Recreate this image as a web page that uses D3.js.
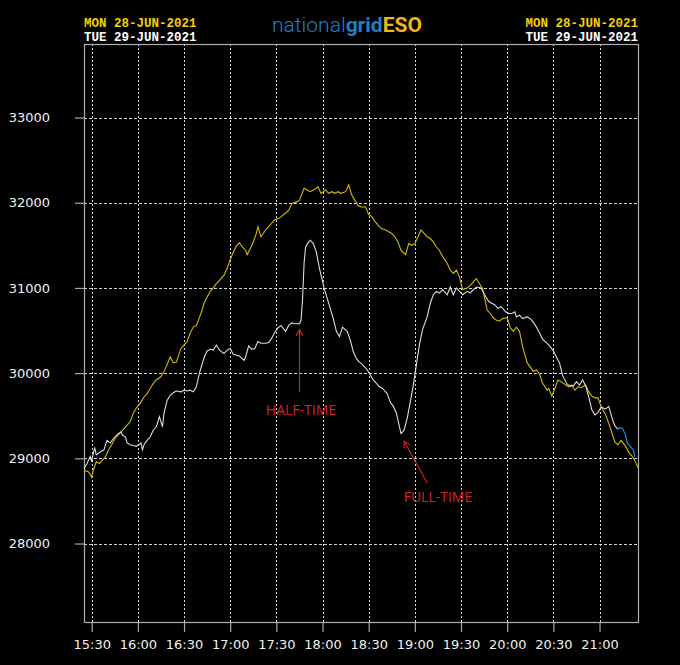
<!DOCTYPE html>
<html><head><meta charset="utf-8">
<script src="https://cdn.jsdelivr.net/npm/d3@7"></script>
<style>html,body{margin:0;padding:0;background:#000;}svg{display:block;}</style>
</head><body>
<svg id="chart" width="680" height="665"></svg>
<script>
// ---------------- DATA ----------------
const headerDates = ["MON 28-JUN-2021", "TUE 29-JUN-2021"];
const logoParts = ["national", "grid", "ESO"];
const yTicks = [28000, 29000, 30000, 31000, 32000, 33000];
const xTickLabels = ["15:30","16:00","16:30","17:00","17:30","18:00","18:30","19:00","19:30","20:00","20:30","21:00"];
const timeExtent = ["15:25", "21:25"];
const valueExtent = [27079, 33863];

// Monday 28-Jun-2021 demand (MW)
const monTimes = ["15:25","15:28","15:30","15:31","15:33","15:35","15:37","15:39","15:41","15:43","15:45","15:48","15:51","15:53","15:55","15:57","15:59","16:02","16:04","16:06","16:08","16:10","16:12","16:15","16:17","16:19","16:21","16:23","16:25","16:28","16:30","16:32","16:34","16:36","16:38","16:41","16:43","16:45","16:47","16:49","16:51","16:53","16:56","16:58","17:00","17:02","17:04","17:06","17:08","17:10","17:11","17:13","17:15","17:17","17:18","17:20","17:23","17:25","17:27","17:29","17:32","17:36","17:38","17:40","17:43","17:45","17:48","17:50","17:52","17:54","17:56","17:57","17:59","18:02","18:04","18:06","18:08","18:10","18:12","18:15","18:17","18:19","18:21","18:23","18:25","18:28","18:30","18:32","18:34","18:36","18:38","18:41","18:43","18:45","18:47","18:49","18:51","18:54","18:56","18:58","19:00","19:02","19:04","19:06","19:08","19:10","19:12","19:14","19:16","19:18","19:21","19:23","19:25","19:27","19:29","19:31","19:34","19:36","19:38","19:40","19:42","19:44","19:47","19:49","19:51","19:53","19:55","19:57","20:00","20:02","20:04","20:06","20:08","20:10","20:13","20:15","20:17","20:19","20:21","20:23","20:26","20:27","20:29","20:31","20:33","20:35","20:38","20:40","20:42","20:44","20:46","20:48","20:51","20:53","20:55","20:57","20:59","21:01","21:04","21:06","21:08","21:10","21:12","21:14","21:17","21:19","21:21","21:23","21:25"];
const monValues = [28860,28840,28780,28860,28960,28940,28980,29020,29100,29160,29230,29290,29350,29390,29430,29530,29590,29660,29720,29760,29820,29880,29920,29960,30020,30100,30190,30120,30130,30290,30330,30370,30470,30540,30560,30700,30820,30890,30960,31000,31050,31090,31150,31230,31330,31420,31490,31530,31480,31440,31390,31460,31540,31640,31720,31600,31680,31720,31760,31800,31820,31880,31910,31990,32010,32030,32170,32150,32130,32150,32170,32190,32110,32150,32110,32130,32110,32130,32110,32130,32210,32090,32030,31970,31950,31950,31860,31840,31780,31740,31700,31680,31660,31640,31600,31540,31440,31390,31520,31500,31520,31600,31680,31640,31600,31580,31540,31480,31440,31370,31290,31210,31170,31210,31130,30980,31000,31030,31070,31110,31050,30990,30740,30700,30650,30620,30610,30640,30650,30530,30490,30540,30490,30310,30120,30070,30020,30040,29990,29880,29800,29820,29730,29820,29920,29900,29860,29840,29860,29800,29840,29830,29860,29780,29730,29710,29710,29610,29510,29410,29300,29190,29160,29210,29140,29070,29030,28970,28890];

// Tuesday 29-Jun-2021 demand (MW)
const tueTimes = ["15:25","15:27","15:29","15:30","15:31","15:32","15:33","15:36","15:38","15:39","15:40","15:42","15:44","15:46","15:49","15:50","15:52","15:53","15:55","15:57","15:59","16:02","16:03","16:04","16:06","16:08","16:10","16:12","16:14","16:16","16:17","16:19","16:21","16:23","16:25","16:28","16:30","16:32","16:34","16:36","16:38","16:40","16:43","16:45","16:47","16:49","16:51","16:53","16:56","16:58","17:00","17:02","17:04","17:06","17:09","17:10","17:12","17:14","17:16","17:18","17:20","17:23","17:25","17:27","17:29","17:31","17:33","17:36","17:38","17:40","17:42","17:45","17:46","17:47","17:48","17:49","17:51","17:52","17:54","17:56","17:58","18:01","18:03","18:05","18:07","18:09","18:11","18:13","18:16","18:18","18:20","18:22","18:24","18:26","18:29","18:31","18:33","18:35","18:37","18:39","18:42","18:44","18:46","18:48","18:50","18:51","18:53","18:55","18:57","18:59","19:01","19:03","19:05","19:08","19:10","19:12","19:14","19:16","19:18","19:21","19:23","19:25","19:27","19:29","19:31","19:34","19:36","19:38","19:40","19:43","19:46","19:48","19:50","19:52","19:54","19:56","19:59","20:01","20:03","20:05","20:06","20:08","20:10","20:13","20:15","20:17","20:19","20:21","20:23","20:26","20:28","20:30","20:32","20:34","20:36","20:39","20:41","20:43","20:45","20:47","20:49","20:51","20:53","20:55","20:57","20:59","21:01","21:04","21:06","21:08","21:10","21:12","21:13","21:15","21:17","21:18","21:20","21:22","21:23"];
const tueValues = [28880,28940,29020,28960,29060,29120,29040,29080,29100,29160,29210,29180,29230,29270,29310,29270,29250,29180,29160,29150,29140,29180,29100,29160,29210,29250,29330,29370,29490,29370,29530,29680,29740,29770,29790,29780,29800,29790,29800,29780,29840,30000,30180,30260,30280,30270,30330,30270,30230,30270,30290,30220,30210,30200,30150,30190,30320,30280,30290,30370,30350,30350,30360,30410,30480,30530,30560,30490,30560,30590,30580,30580,30620,30860,31290,31480,31540,31560,31520,31420,31230,31000,30880,30760,30640,30490,30430,30540,30490,30390,30250,30170,30130,30100,30040,29980,29920,29880,29840,29820,29760,29660,29610,29530,29370,29290,29330,29470,29660,29860,30100,30340,30510,30660,30820,30920,30960,30940,30980,30920,31010,30920,31000,30960,30920,30960,30940,30980,31010,31000,30900,30840,30820,30800,30760,30780,30720,30700,30700,30720,30660,30680,30640,30660,30640,30600,30540,30470,30400,30350,30310,30260,30190,30120,29970,29870,29850,29850,29900,29860,29920,29850,29720,29570,29510,29540,29600,29580,29610,29480,29380,29340,29360,29350,29270,29180,29140,29100,29020];
const tueLatestFrom = "21:12";

// Annotations
const annotationLabels = ["HALF-TIME", "FULL-TIME"];
const annotationLabelAt = [["17:46", 29510], ["19:15", 28490]];
const annotationArrowFrom = [["17:45", 29780], ["19:08", 28710]];
const annotationArrowTo = [["17:45", 30510], ["18:53", 29200]];

// ---------------- CHART ----------------
const parseT = d3.timeParse("%H:%M");
const frame = {left: 84, right: 638, top: 44, bottom: 622};
const svg = d3.select("#chart");
svg.append("rect").attr("width", 680).attr("height", 665).attr("fill", "#000");

const x = d3.scaleTime().domain(timeExtent.map(parseT)).range([frame.left, frame.right]);
const y = d3.scaleLinear().domain(valueExtent).range([frame.bottom, frame.top]);

// gridlines
svg.append("g").selectAll("line").data(yTicks).join("line")
  .attr("x1", frame.left).attr("x2", frame.right)
  .attr("y1", d => Math.round(y(d)) + 0.5).attr("y2", d => Math.round(y(d)) + 0.5)
  .attr("stroke", "#d8d8d8").attr("stroke-width", 1).attr("stroke-dasharray", "3,2");
svg.append("g").selectAll("line").data(xTickLabels).join("line")
  .attr("x1", d => Math.round(x(parseT(d))) + 0.5).attr("x2", d => Math.round(x(parseT(d))) + 0.5)
  .attr("y1", frame.top).attr("y2", frame.bottom)
  .attr("stroke", "#d8d8d8").attr("stroke-width", 1).attr("stroke-dasharray", "2,2");

// axes
const yAxis = d3.axisLeft(y).tickValues(yTicks).tickSize(9).tickPadding(25).tickFormat(d3.format("d"));
const gy = svg.append("g").attr("transform", `translate(${frame.left},0)`).call(yAxis);
const xAxis = d3.axisBottom(x).tickValues(xTickLabels.map(parseT)).tickSize(10).tickPadding(8).tickFormat(d3.timeFormat("%H:%M"));
const gx = svg.append("g").attr("transform", `translate(0,${frame.bottom})`).call(xAxis);
[gx, gy].forEach(g => {
  g.select(".domain").remove();
  g.selectAll(".tick line").attr("stroke", "#a8a8a8").attr("stroke-width", 1.2);
  g.selectAll(".tick text").attr("fill", "#f0f0f0")
    .style("font-family", "'DejaVu Sans', Verdana, sans-serif").style("font-size", "13px");
});

// frame
svg.append("rect").attr("x", frame.left + 0.5).attr("y", frame.top + 0.5)
  .attr("width", frame.right - frame.left).attr("height", frame.bottom - frame.top)
  .attr("fill", "none").attr("stroke", "#b0b0b0").attr("stroke-width", 1.2);

// series
const line = d3.line().x(d => x(d.t)).y(d => y(d.v));
const mon = monTimes.map((t, i) => ({t: parseT(t), v: monValues[i]}));
const tue = tueTimes.map((t, i) => ({t: parseT(t), v: tueValues[i]}));
const cut = parseT(tueLatestFrom);
svg.append("path").datum(mon).attr("d", line).attr("fill", "none").attr("stroke", "#d2b900").attr("stroke-width", 1.1);
svg.append("path").datum(tue.filter(d => d.t <= cut)).attr("d", line).attr("fill", "none").attr("stroke", "#dcdcdc").attr("stroke-width", 1.1);
svg.append("path").datum(tue.filter(d => d.t >= cut)).attr("d", line).attr("fill", "none").attr("stroke", "#1a8fd0").attr("stroke-width", 1.2);

// annotations
const red = "#d9202a";
annotationLabels.forEach((lab, i) => {
  const [ft, fv] = annotationArrowFrom[i], [tt, tv] = annotationArrowTo[i];
  const x1 = x(parseT(ft)), y1 = y(fv), x2 = x(parseT(tt)), y2 = y(tv);
  svg.append("line").attr("x1", x1).attr("y1", y1).attr("x2", x2).attr("y2", y2)
    .attr("stroke", red).attr("stroke-width", 1.1);
  const ang = Math.atan2(y2 - y1, x2 - x1), L = 7, A = Math.PI / 6;
  const p = [[x2 - L * Math.cos(ang - A), y2 - L * Math.sin(ang - A)], [x2, y2], [x2 - L * Math.cos(ang + A), y2 - L * Math.sin(ang + A)]];
  svg.append("path").attr("d", d3.line()(p)).attr("fill", "none").attr("stroke", red).attr("stroke-width", 1.1);
  const [lt, lv] = annotationLabelAt[i];
  svg.append("text").attr("x", x(parseT(lt))).attr("y", y(lv)).attr("text-anchor", "middle")
    .attr("fill", red).style("font-family", "'Open Sans', sans-serif").style("font-size", "14px").text(lab);
});

// header
const mono = "'Liberation Mono', 'DejaVu Sans Mono', monospace";
const hdrColors = ["#f5d000", "#ffffff"];
const hdrY = [27, 41];
headerDates.forEach((d, i) => {
  svg.append("text").attr("x", frame.left).attr("y", hdrY[i]).attr("fill", hdrColors[i])
    .style("font-family", mono).style("font-weight", "bold").style("font-size", "12.5px").text(d);
  svg.append("text").attr("x", frame.right).attr("y", hdrY[i]).attr("text-anchor", "end").attr("fill", hdrColors[i])
    .style("font-family", mono).style("font-weight", "bold").style("font-size", "12.5px").text(d);
});
const logo = svg.append("text").attr("x", 347).attr("y", 32).attr("text-anchor", "middle")
  .style("font-family", "Roboto, 'Liberation Sans', Arial, sans-serif").style("font-size", "21px");
const logoStyles = [{fill: "#1f7fc4", w: 300}, {fill: "#1f7fc4", w: 700}, {fill: "#f2b418", w: 700}];
logoParts.forEach((p, i) => logo.append("tspan").attr("fill", logoStyles[i].fill).style("font-weight", logoStyles[i].w).text(p));
</script>
</body></html>
